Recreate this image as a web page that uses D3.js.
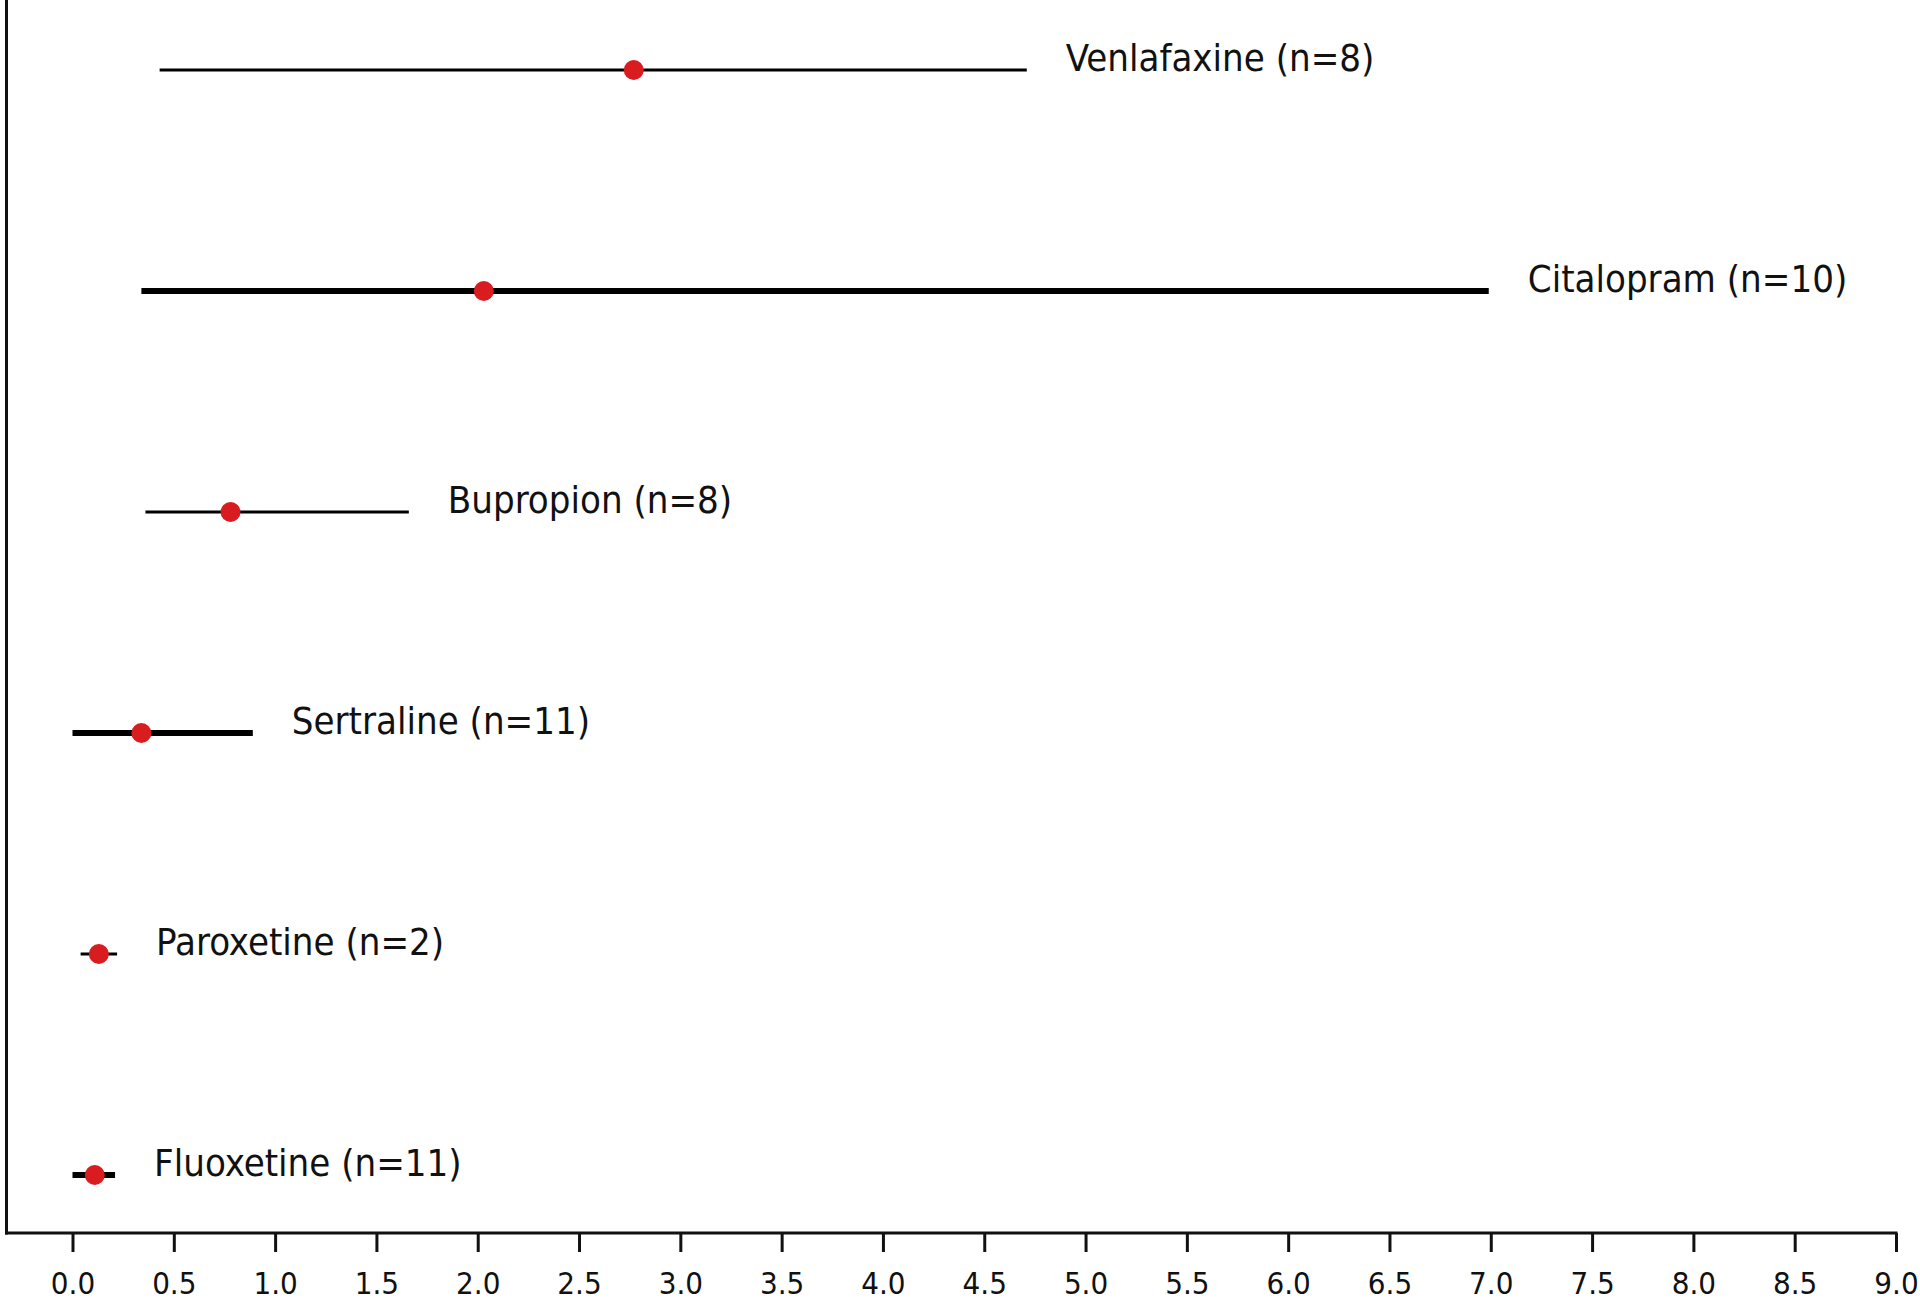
<!DOCTYPE html>
<html>
<head>
<meta charset="utf-8">
<script src="https://cdn.jsdelivr.net/npm/d3@7"></script>
<style>
  html, body { margin: 0; padding: 0; background: #ffffff; }
  svg { display: block; }
  text { font-family: "DejaVu Sans Condensed", "DejaVu Sans", sans-serif; font-stretch: condensed; fill: #111; }
</style>
</head>
<body>
<svg id="chart" width="1920" height="1309"></svg>
<script>
// Data (bottom to top order as plotted)
const drugs  = ["Fluoxetine", "Paroxetine", "Sertraline", "Bupropion", "Citalopram", "Venlafaxine"];
const counts = [11, 2, 11, 8, 10, 8];
const means  = [0.11, 0.13, 0.34, 0.78, 2.03, 2.77];
const lows   = [0.00, 0.04, 0.00, 0.36, 0.34, 0.43];
const highs  = [0.21, 0.22, 0.89, 1.66, 6.99, 4.71];
const xTicks = [0, 0.5, 1, 1.5, 2, 2.5, 3, 3.5, 4, 4.5, 5, 5.5, 6, 6.5, 7, 7.5, 8, 8.5, 9];

const rows = drugs.map((d, i) => ({ drug: d, n: counts[i], mean: means[i], lo: lows[i], hi: highs[i] }));

const svg = d3.select("#chart");
const axisY = 1233;
const spineX = 6.5;

const x = d3.scaleLinear().domain([0, 9]).range([72.5, 1896]);
const y = d3.scalePoint().domain(drugs).range([1175, 70]);

// Spines
svg.append("line")
  .attr("x1", spineX).attr("x2", spineX)
  .attr("y1", 0).attr("y2", axisY + 1.5)
  .attr("stroke", "#111").attr("stroke-width", 3);

const xAxis = d3.axisBottom(x).tickValues(xTicks).tickSize(19).tickFormat(d3.format(".1f"));
const gx = svg.append("g").attr("transform", `translate(0,${axisY})`).call(xAxis);
gx.select(".domain").remove();
gx.selectAll(".tick line").attr("stroke", "#111").attr("stroke-width", 3);
gx.selectAll(".tick text")
  .attr("y", 61).attr("dy", 0)
  .attr("font-size", 31)
  .style("font-family", '"DejaVu Sans Condensed", "DejaVu Sans", sans-serif')
  .attr("fill", "#222");

svg.append("line")
  .attr("x1", spineX - 1.5).attr("x2", x(9) + 1.5)
  .attr("y1", axisY).attr("y2", axisY)
  .attr("stroke", "#111").attr("stroke-width", 3);

// Ranges
const g = svg.append("g");
g.selectAll("line.range").data(rows).join("line")
  .attr("class", "range")
  .attr("x1", d => x(d.lo)).attr("x2", d => x(d.hi))
  .attr("y1", d => y(d.drug)).attr("y2", d => y(d.drug))
  .attr("stroke", "#000")
  .attr("stroke-width", d => d.n >= 10 ? 6 : 3);

// Means
g.selectAll("circle.mean").data(rows).join("circle")
  .attr("class", "mean")
  .attr("cx", d => x(d.mean)).attr("cy", d => y(d.drug))
  .attr("r", 10)
  .attr("fill", "#d91c1f");

// Labels
g.selectAll("text.lbl").data(rows).join("text")
  .attr("class", "lbl")
  .attr("x", d => x(d.hi) + 39)
  .attr("y", d => y(d.drug) + 1)
  .attr("font-size", 38)
  .text(d => `${d.drug} (n=${d.n})`);
</script>
</body>
</html>
